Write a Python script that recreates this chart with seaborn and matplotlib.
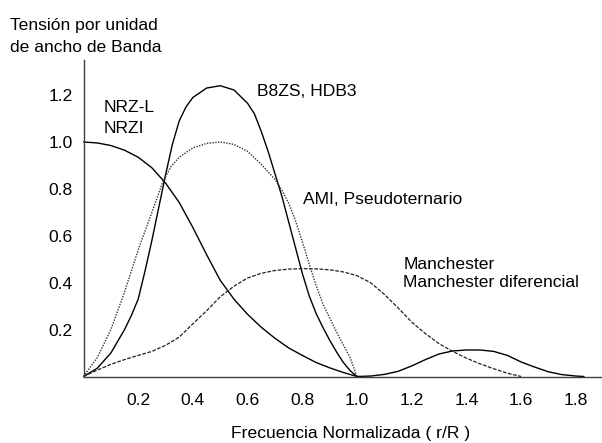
import matplotlib
matplotlib.use("Agg")
import matplotlib.pyplot as plt
import seaborn as sns
import pandas as pd

# ---- data ----
nrz_f = [0, 0.05, 0.1, 0.15, 0.2, 0.25, 0.3, 0.35, 0.4, 0.45, 0.5, 0.55, 0.6, 0.65, 0.7,
         0.75, 0.8, 0.85, 0.9, 0.95, 1.0, 1.05, 1.1, 1.15, 1.2, 1.25, 1.3, 1.35, 1.4,
         1.45, 1.5, 1.55, 1.6, 1.65, 1.7, 1.75, 1.8, 1.83]
nrz_v = [1.0, 0.996, 0.985, 0.965, 0.935, 0.89, 0.825, 0.742, 0.635, 0.52, 0.41, 0.33,
         0.265, 0.21, 0.163, 0.122, 0.09, 0.06, 0.037, 0.017, 0.0, 0.002, 0.009, 0.022,
         0.045, 0.072, 0.096, 0.109, 0.113, 0.113, 0.107, 0.09, 0.062, 0.04, 0.02, 0.008,
         0.002, 0.0]

b8zs_f = [0, 0.05, 0.1, 0.15, 0.175, 0.2, 0.225, 0.25, 0.275, 0.3, 0.325, 0.35, 0.375,
          0.4, 0.45, 0.5, 0.55, 0.6, 0.625, 0.65, 0.675, 0.7, 0.725, 0.75, 0.775, 0.8,
          0.825, 0.85, 0.875, 0.9, 0.925, 0.95, 0.975, 1.0]
b8zs_v = [0, 0.035, 0.1, 0.2, 0.26, 0.33, 0.45, 0.58, 0.72, 0.86, 0.99, 1.09, 1.15,
          1.19, 1.23, 1.24, 1.222, 1.165, 1.12, 1.045, 0.96, 0.865, 0.77, 0.66, 0.55,
          0.44, 0.345, 0.27, 0.21, 0.155, 0.105, 0.06, 0.025, 0.0]

ami_f = [0, 0.05, 0.1, 0.15, 0.2, 0.25, 0.29, 0.32, 0.35, 0.4, 0.45, 0.5, 0.55, 0.6,
         0.65, 0.7, 0.725, 0.75, 0.775, 0.8, 0.825, 0.85, 0.875, 0.9, 0.925, 0.95,
         0.975, 1.0]
ami_v = [0, 0.08, 0.2, 0.36, 0.54, 0.7, 0.83, 0.895, 0.935, 0.975, 0.994, 1.0, 0.99,
         0.96, 0.905, 0.84, 0.795, 0.74, 0.665, 0.575, 0.48, 0.39, 0.31, 0.25, 0.19,
         0.135, 0.08, 0.0]

man_f = [0, 0.05, 0.1, 0.15, 0.2, 0.25, 0.3, 0.35, 0.4, 0.45, 0.5, 0.55, 0.6, 0.65,
         0.7, 0.75, 0.8, 0.85, 0.9, 0.95, 1.0, 1.05, 1.1, 1.15, 1.2, 1.25, 1.3, 1.35,
         1.4, 1.45, 1.5, 1.55, 1.6]
man_v = [0, 0.027, 0.052, 0.072, 0.09, 0.107, 0.133, 0.168, 0.225, 0.28, 0.34, 0.385,
         0.42, 0.44, 0.452, 0.458, 0.46, 0.459, 0.455, 0.446, 0.43, 0.4, 0.35, 0.293,
         0.232, 0.183, 0.14, 0.107, 0.078, 0.054, 0.033, 0.014, 0.0]

x_ticks = [0.2, 0.4, 0.6, 0.8, 1.0, 1.2, 1.4, 1.6, 1.8]
y_ticks = [0.2, 0.4, 0.6, 0.8, 1.0, 1.2]

# ---- style ----
sns.set_style("white")
plt.rcParams["font.family"] = ["Liberation Sans", "DejaVu Sans"]
FS = 12.6
W, H = 602, 443

fig = plt.figure(figsize=(W / 100, H / 100), dpi=100)
x0, y0, x1, y1 = 83.5, 376.5, 602, 60
ax = fig.add_axes([x0 / W, 1 - y0 / H, (x1 - x0) / W, (y0 - y1) / H])

series = [
    (nrz_f, nrz_v, "-", "black", 1.0),
    (b8zs_f, b8zs_v, "-", "black", 1.0),
    (ami_f, ami_v, (0, (1, 1)), "#333333", 1.0),
    (man_f, man_v, (0, (3, 1.2)), "#222222", 0.9),
]
for fx, vy, ls, col, lw in series:
    df = pd.DataFrame({"f": fx, "v": vy})
    sns.lineplot(data=df, x="f", y="v", ax=ax, color=col, linewidth=lw,
                 linestyle=ls, sort=False, estimator=None, clip_on=False)

ax.set_xlim(0, (x1 - x0) / 273.5)
ax.set_ylim(0, (y0 - y1) / 234.5)
ax.set_xticks(x_ticks)
ax.set_xticklabels([f"{t:.1f}" for t in x_ticks])
ax.set_yticks(y_ticks)
ax.set_yticklabels([f"{t:.1f}" for t in y_ticks])
ax.set_xlabel("")
ax.set_ylabel("")
for s in ["top", "right"]:
    ax.spines[s].set_visible(False)
for s in ["left", "bottom"]:
    ax.spines[s].set_color("#404040")
    ax.spines[s].set_linewidth(1.0)
ax.tick_params(axis="both", direction="in", length=6, width=1.0, color="#404040",
               labelsize=FS, labelcolor="black")
ax.tick_params(axis="x", pad=12)
ax.tick_params(axis="y", pad=7.8)


def ptext(px, py, s):
    fig.text(px / W, 1 - py / H, s, fontsize=FS, color="black", va="baseline", ha="left")


ptext(10, 30, "Tensión por unidad")
ptext(9.5, 51.7, "de ancho de Banda")
ptext(103.3, 111.7, "NRZ-L")
ptext(103.3, 133.3, "NRZI")
ptext(257.3, 96.5, "B8ZS, HDB3")
ptext(302.7, 204.5, "AMI, Pseudoternario")
ptext(403.3, 269.3, "Manchester")
ptext(403.3, 286.7, "Manchester diferencial")
fig.text(351 / W, 1 - 438 / H, "Frecuencia Normalizada ( r/R )", fontsize=FS,
         color="black", va="baseline", ha="center")

fig.savefig("out.png", dpi=100)
